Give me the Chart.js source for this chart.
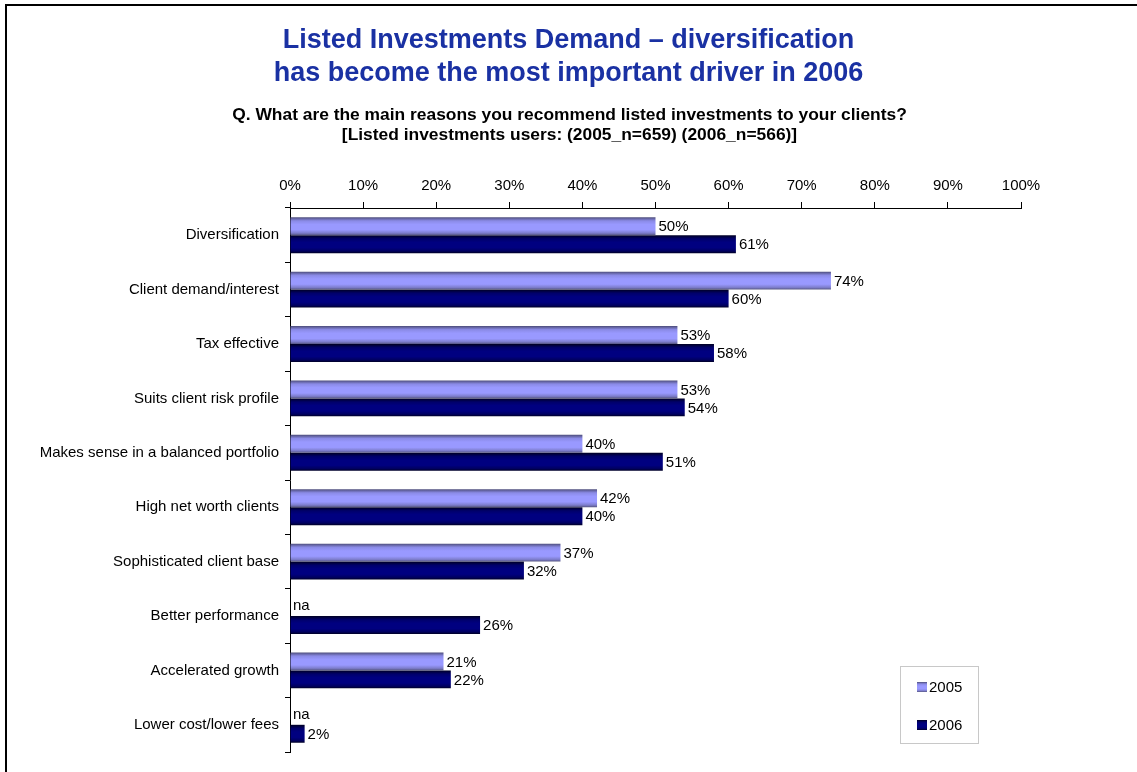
<!DOCTYPE html>
<html>
<head>
<meta charset="utf-8">
<title>Listed Investments Demand</title>
<script src="https://cdn.jsdelivr.net/npm/chart.js@4.4.1/dist/chart.umd.min.js"></script>
<style>
  html, body { margin: 0; padding: 0; background: #fff; }
  #wrap { position: relative; width: 1137px; height: 772px; overflow: hidden; }
  #frame { position: absolute; left: 5px; top: 4px; right: -10px; bottom: -10px;
           border-left: 2px solid #000; border-top: 2px solid #000; pointer-events: none; }
  canvas { position: absolute; left: 0; top: 0; }
</style>
</head>
<body>
<div id="wrap">
  <canvas id="chart" width="1137" height="772"></canvas>
  <div id="frame"></div>
</div>
<script>
/* Reasons for recommending listed investments, 2005 vs 2006 */

const categories = [
  'Diversification',
  'Client demand/interest',
  'Tax effective',
  'Suits client risk profile',
  'Makes sense in a balanced portfolio',
  'High net worth clients',
  'Sophisticated client base',
  'Better performance',
  'Accelerated growth',
  'Lower cost/lower fees',
];

// null = not asked that year ("na")
const values2005 = [50, 74, 53, 53, 40, 42, 37, null, 21, null];
const values2006 = [61, 60, 58, 54, 51, 40, 32, 26, 22, 2];

const seriesNames = ['2005', '2006'];
const xTicks = [0, 10, 20, 30, 40, 50, 60, 70, 80, 90, 100];

const titleLines = ['Listed Investments Demand \u2013 diversification',
                    'has become the most important driver in 2006'];
const subtitleLines = ['Q. What are the main reasons you recommend listed investments to your clients?',
                       '[Listed investments users: (2005_n=659) (2006_n=566)]'];

const FONT = "'Liberation Sans', Arial, sans-serif";
const CAT_PCT = 0.66;

// light/dark bands give the bars their rounded "tube" look
const shades = [
  ['#4d4d7a', '#8a8ae6', '#9999ff', '#9999ff', '#7d7dcc', '#55557f'],
  ['#000022', '#00006a', '#000080', '#000080', '#000060', '#000026'],
];

function tubeFill(ctx, idx, top, bottom) {
  const g = ctx.createLinearGradient(0, top, 0, bottom);
  const s = shades[idx];
  g.addColorStop(0, s[0]);
  g.addColorStop(0.2, s[1]);
  g.addColorStop(0.4, s[2]);
  g.addColorStop(0.7, s[3]);
  g.addColorStop(0.88, s[4]);
  g.addColorStop(1, s[5]);
  return g;
}

function barFill(c) {
  const chart = c.chart;
  const y = chart.scales.y;
  if (!y || y.top == null || c.dataIndex == null) return shades[c.datasetIndex][2];
  const center = y.getPixelForValue(c.dataIndex);
  const half = (y.bottom - y.top) / categories.length * CAT_PCT / 2;
  const top = c.datasetIndex === 0 ? center - half : center;
  return tubeFill(chart.ctx, c.datasetIndex, top, top + half);
}

// two-line heading centred on the whole page
const heading = {
  id: 'heading',
  beforeDraw(chart) {
    const { ctx } = chart;
    const cx = chart.width / 2;
    ctx.save();
    ctx.textAlign = 'center';
    ctx.textBaseline = 'middle';
    ctx.fillStyle = '#1a31a3';
    ctx.font = 'bold 27px ' + FONT;
    ctx.fillText(titleLines[0], cx, 41);
    ctx.fillText(titleLines[1], cx, 74);
    ctx.fillStyle = '#000';
    ctx.font = 'bold 17.4px ' + FONT;
    ctx.fillText(subtitleLines[0], cx + 1, 115);
    ctx.fillText(subtitleLines[1], cx + 1, 135);
    ctx.restore();
  },
};

// value labels at the bar ends, "na" where there is no value
const valueLabels = {
  id: 'valueLabels',
  afterDatasetsDraw(chart) {
    const { ctx } = chart;
    const x = chart.scales.x;
    const y = chart.scales.y;
    const quarter = (y.bottom - y.top) / categories.length * CAT_PCT / 4;
    ctx.save();
    ctx.font = '15px ' + FONT;
    ctx.fillStyle = '#000';
    ctx.textBaseline = 'middle';
    ctx.textAlign = 'left';
    chart.data.datasets.forEach((ds, di) => {
      ds.data.forEach((v, i) => {
        const center = y.getPixelForValue(i);
        const cy = di === 0 ? center - quarter : center + quarter;
        if (v == null) {
          ctx.fillText('na', x.getPixelForValue(0) + 3, cy - 1);
        } else {
          ctx.fillText(v + '%', x.getPixelForValue(v) + 3, cy + 1);
        }
      });
    });
    ctx.restore();
  },
};

// boxed legend in the lower right corner
const boxLegend = {
  id: 'boxLegend',
  afterDraw(chart) {
    const { ctx } = chart;
    ctx.save();
    ctx.strokeStyle = '#c8c8c8';
    ctx.lineWidth = 1;
    ctx.strokeRect(900.5, 666.5, 78, 77);
    ctx.font = '15px ' + FONT;
    ctx.textBaseline = 'middle';
    seriesNames.forEach((name, i) => {
      const cy = i === 0 ? 687 : 725;
      ctx.fillStyle = tubeFill(ctx, i, cy - 5, cy + 5);
      ctx.fillRect(917, cy - 5, 10, 10);
      ctx.fillStyle = '#000';
      ctx.fillText(name, 929, cy + 1);
    });
    ctx.restore();
  },
};

new Chart(document.getElementById('chart'), {
  type: 'bar',
  data: {
    labels: categories,
    datasets: [
      { label: seriesNames[0], data: values2005, backgroundColor: barFill,
        categoryPercentage: CAT_PCT, barPercentage: 1 },
      { label: seriesNames[1], data: values2006, backgroundColor: barFill,
        categoryPercentage: CAT_PCT, barPercentage: 1 },
    ],
  },
  options: {
    indexAxis: 'y',
    responsive: false,
    animation: false,
    layout: { padding: { top: 144, right: 116, bottom: 20, left: 0 } },
    plugins: {
      legend: { display: false },
      tooltip: { enabled: false },
    },
    scales: {
      x: {
        position: 'top',
        min: 0,
        max: 100,
        afterBuildTicks: (s) => { s.ticks = xTicks.map(v => ({ value: v })); },
        afterFit: (s) => { s.height = 64; },
        ticks: {
          callback: (v) => v + '%',
          color: '#000',
          font: { family: FONT, size: 15 },
          padding: 7,
          maxRotation: 0,
        },
        grid: { drawOnChartArea: false, tickLength: 6, color: '#000' },
        border: { color: '#000', width: 1 },
      },
      y: {
        afterFit: (s) => { s.width = 290; },
        ticks: {
          color: '#000',
          font: { family: FONT, size: 15 },
          padding: 6,
        },
        grid: { drawOnChartArea: false, tickLength: 5, color: '#000', offset: true },
        border: { color: '#000', width: 1 },
      },
    },
  },
  plugins: [heading, valueLabels, boxLegend],
});
</script>
</body>
</html>
